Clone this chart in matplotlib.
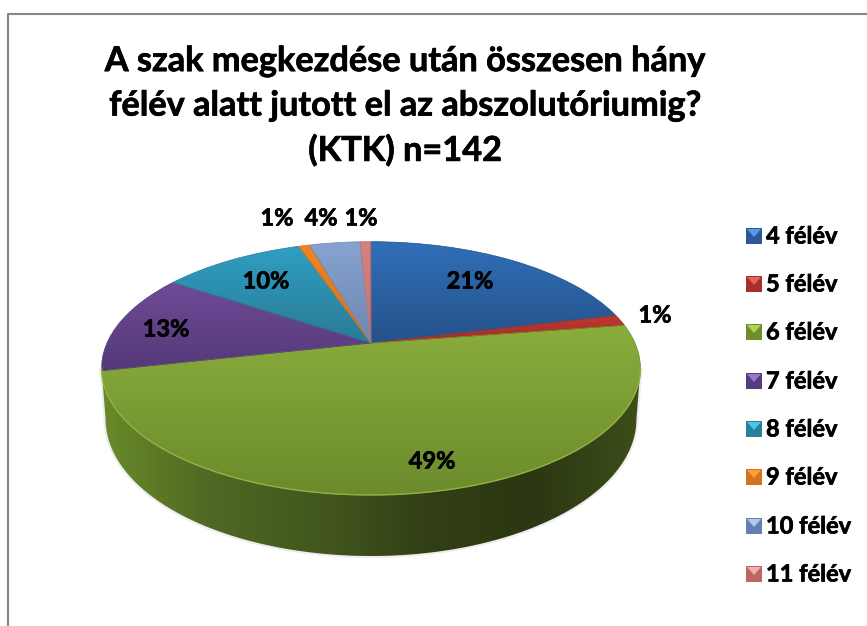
import numpy as np
import matplotlib
matplotlib.use('Agg')
import matplotlib.pyplot as plt
import matplotlib.patheffects as pe
from matplotlib.colors import LinearSegmentedColormap
from matplotlib.patches import Polygon, Rectangle
from matplotlib.transforms import Transform

plt.rcParams['font.family'] = ['Lato', 'Open Sans', 'DejaVu Sans']

TITLE = 'A szak megkezdése után összesen hány\nfélév alatt jutott el az abszolutóriumig?\n(KTK) n=142'
CATEGORIES = ['4 félév', '5 félév', '6 félév', '7 félév', '8 félév', '9 félév', '10 félév', '11 félév']
VALUES = [21.2, 1.4, 48.9, 12.8, 10.4, 0.8, 3.7, 0.8]

COLORS_TOP = ['#306fb9', '#c0392f', '#8aad3c', '#704a96', '#2f9fc2', '#ee8522', '#88a3d2', '#d4837f']
COLORS_BOTTOM = ['#25528a', '#a32c2a', '#6c8b2c', '#54397a', '#2a7b96', '#d9731a', '#6f87b0', '#c47370']
SWATCH_LIGHT = ['#5a9ae6', '#e8605a', '#aed455', '#9a78c8', '#4fc4e4', '#fba040', '#b4c8ee', '#f0b0ac']
SWATCH_DARK = ['#2a5a96', '#a52f2c', '#6f8e30', '#573c7c', '#2b8099', '#d5731c', '#6480aa', '#b96664']

LABEL_POS = [(470, 281), (655, 315), (432, 461), (166, 329), (266, 281), (277, 218), (321, 218), (361, 218)]
LEGEND_Y = [236, 284, 332, 381, 429, 477, 526, 574]

# pie geometry, in picture pixels
CX, CY = 371, 343
RX, RY = 264, 121.6
PERSP = 0.2
DEPTH = 61

HEAVY = [pe.withStroke(linewidth=0.5, foreground='black')]


class DiskTransform(Transform):
    # tilts the unit disk of the pie into picture pixels
    input_dims = 2
    output_dims = 2

    def transform_non_affine(self, values):
        values = np.asarray(values)
        w = 1 + PERSP * values[:, 1]
        return np.column_stack([CX + RX * values[:, 0] / w, CY - RY * values[:, 1] / w])


def gradient(ax, stops, extent, clip, vertical=True, zorder=2):
    cmap = LinearSegmentedColormap.from_list('g', stops)
    ramp = np.linspace(0, 1, 256)
    ramp = ramp[:, None] if vertical else ramp[None, :]
    im = ax.imshow(ramp, cmap=cmap, extent=extent, aspect='auto', zorder=zorder, interpolation='bilinear')
    im.set_clip_path(clip)
    return im


fig = plt.figure(figsize=(8.67, 6.26), dpi=100)
ax = fig.add_axes([0, 0, 1, 1])
disk = DiskTransform()

wedges, _ = ax.pie(VALUES, startangle=90, counterclock=False, radius=1)
ax.set_aspect('auto')
ax.set_autoscale_on(False)
ax.set_xlim(0, 867)
ax.set_ylim(626, 0)
ax.axis('off')

# outer chart border
ax.plot([8, 8, 867], [626, 14, 14], color='#868686', lw=1.5, zorder=1)

# side wall
t = np.linspace(np.pi + np.arcsin(PERSP), 2 * np.pi - np.arcsin(PERSP), 200)
rim = disk.transform_non_affine(np.column_stack([np.cos(t), np.sin(t)]))
drop = DEPTH * (1 - PERSP) / (1 + PERSP * np.sin(t))
low = np.column_stack([CX + (rim[:, 0] - CX) * 0.985, rim[:, 1] + drop])
wall = Polygon(np.vstack([rim, low[::-1]]), closed=True, facecolor='none', edgecolor='#000000', alpha=0.07, lw=3, zorder=1.5)
ax.add_patch(wall)
wall_clip = Polygon(np.vstack([rim, low[::-1]]), closed=True, transform=ax.transData, visible=False)
ax.add_patch(wall_clip)
gradient(ax, ['#6a8a2a', '#4f6823', '#43581e', '#323f16', '#2b3712', '#3d4e1a'],
         [rim[:, 0].min(), rim[:, 0].max(), 626, 300], wall_clip, vertical=False)

# top faces
theta = np.radians(90 - np.cumsum([0] + VALUES) * 3.6)
for i, wedge in enumerate(wedges):
    wedge.set_transform(disk + ax.transData)
    wedge.set_zorder(4)
    arc = np.linspace(theta[i], theta[i + 1], 100)
    pts = disk.transform_non_affine(np.vstack([[0, 0], np.column_stack([np.cos(arc), np.sin(arc)])]))
    y0, y1 = pts[:, 1].min(), pts[:, 1].max()
    gradient(ax, [COLORS_TOP[i], COLORS_BOTTOM[i]], [pts[:, 0].min(), pts[:, 0].max(), y1, y0], wedge, zorder=3)
    wedge.set_facecolor('none')
    wedge.set_edgecolor(COLORS_BOTTOM[i])
    wedge.set_linewidth(0.5)

ax.plot(rim[:, 0], rim[:, 1], color='#93b245', lw=1, zorder=5)

for value, (x, y) in zip(VALUES, LABEL_POS):
    ax.text(x, y, f'{value:.0f}%', ha='center', va='center', fontsize=17, fontweight='bold', color='black',
            zorder=6, path_effects=HEAVY)

ax.text(405, 106, TITLE, ha='center', va='center', fontsize=24.7, fontweight='bold', color='black',
        linespacing=1.48, zorder=6, path_effects=HEAVY)

# legend with bevelled keys
for i, (name, y) in enumerate(zip(CATEGORIES, LEGEND_Y)):
    x0, x1, y0, y1 = 746, 762, y - 8, y + 8
    ax.add_patch(Rectangle((x0, y0), x1 - x0, y1 - y0, facecolor=SWATCH_DARK[i], edgecolor='none', zorder=6))
    ax.add_patch(Polygon([(x0 + 1, y0 + 1), (x1 - 1, y0 + 1), ((x0 + x1) / 2, y + 1)], facecolor=SWATCH_LIGHT[i],
                         edgecolor='none', zorder=7))
    ax.text(766, y, name, ha='left', va='center', fontsize=17, fontweight='bold', color='black',
            zorder=6, path_effects=HEAVY)

fig.savefig('out.png', dpi=100)
